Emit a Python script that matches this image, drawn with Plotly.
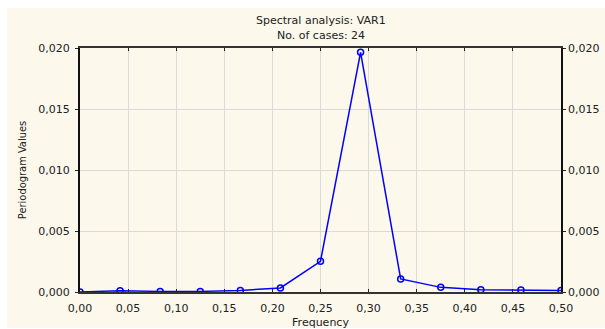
import plotly.graph_objects as go

# Periodogram of VAR1 (24 cases): Fourier frequencies k/24, k = 0..12
frequency = [0.0, 1/24, 2/24, 3/24, 4/24, 5/24, 6/24, 7/24, 8/24, 9/24, 10/24, 11/24, 12/24]
periodogram = [0.0, 0.00011, 0.00005, 0.00005, 0.00013, 0.00033, 0.00252, 0.01965,
               0.00107, 0.00038, 0.00019, 0.00016, 0.00013]

x_ticks = [0.0, 0.05, 0.10, 0.15, 0.20, 0.25, 0.30, 0.35, 0.40, 0.45, 0.50]
y_ticks = [0.0, 0.005, 0.010, 0.015, 0.020]

font_main = "DejaVu Sans, Verdana, sans-serif"
cream = "#FCF8EC"

# plot area in pixels: x 80..561, y 48..292
L, R, T, B = 80, 561, 48, 292
W, H = R - L, B - T


def px_x(px):
    return (px - L) / W


def px_y(py):
    return (B - py) / H


fig = go.Figure()
fig.add_trace(go.Scatter(
    x=frequency, y=periodogram, mode="lines+markers",
    line=dict(color="#0000FF", width=1.5),
    marker=dict(symbol="circle-open", size=6, color="#0000FF", line=dict(width=1.5)),
    showlegend=False,
))

# secondary y axis only for mirrored tick labels on the right
fig.add_trace(go.Scatter(x=frequency, y=periodogram, yaxis="y2", mode="lines",
                         line=dict(width=0), hoverinfo="skip", showlegend=False))

fig.update_layout(
    width=605, height=329,
    margin=dict(l=L, r=605 - R, t=T, b=329 - B),
    paper_bgcolor="white",
    plot_bgcolor="white",
    separators=",.",
    font=dict(family=font_main, size=11, color="#222"),
    xaxis=dict(
        range=[0, 0.5], tickvals=x_ticks, tickformat=".2f",
        showgrid=True, gridcolor="#DADADA", gridwidth=1,
        showline=True, linecolor="#333", linewidth=2, mirror="ticks",
        ticks="inside", ticklen=3, tickcolor="#222",
        ticklabelstandoff=5, automargin=False,
        zeroline=False,
        title=dict(text="Frequency", font=dict(size=11), standoff=6),
    ),
    yaxis=dict(
        range=[0, 0.020], tickvals=y_ticks, tickformat=".3f",
        showgrid=True, gridcolor="#DADADA", gridwidth=1,
        showline=True, linecolor="#111", linewidth=2, mirror="ticks",
        ticks="outside", ticklen=3, tickcolor="#222",
        ticklabelstandoff=3, automargin=False,
        zeroline=False,
        title=dict(text="Periodogram Values",
                   font=dict(size=11, family="DejaVu Sans Condensed, Liberation Sans Narrow, sans-serif"),
                   standoff=9),
    ),
    yaxis2=dict(
        range=[0, 0.020], tickvals=y_ticks, tickformat=".3f",
        overlaying="y", side="right", showgrid=False, zeroline=False,
        showline=False, ticks="", ticklabelstandoff=6, automargin=False,
    ),
    shapes=[dict(
        type="rect", xref="paper", yref="paper",
        x0=px_x(7), x1=px_x(606),
        y0=px_y(328), y1=px_y(8),
        fillcolor=cream, line=dict(width=0), layer="below",
    )],
    annotations=[
        dict(text="Spectral analysis: VAR1", xref="paper", yref="paper",
             x=0.5, y=px_y(20), yanchor="middle", showarrow=False,
             font=dict(size=11)),
        dict(text="No. of cases: 24", xref="paper", yref="paper",
             x=0.5, y=px_y(35), yanchor="middle", showarrow=False,
             font=dict(size=11)),
    ],
)

fig.write_html("out.html")
